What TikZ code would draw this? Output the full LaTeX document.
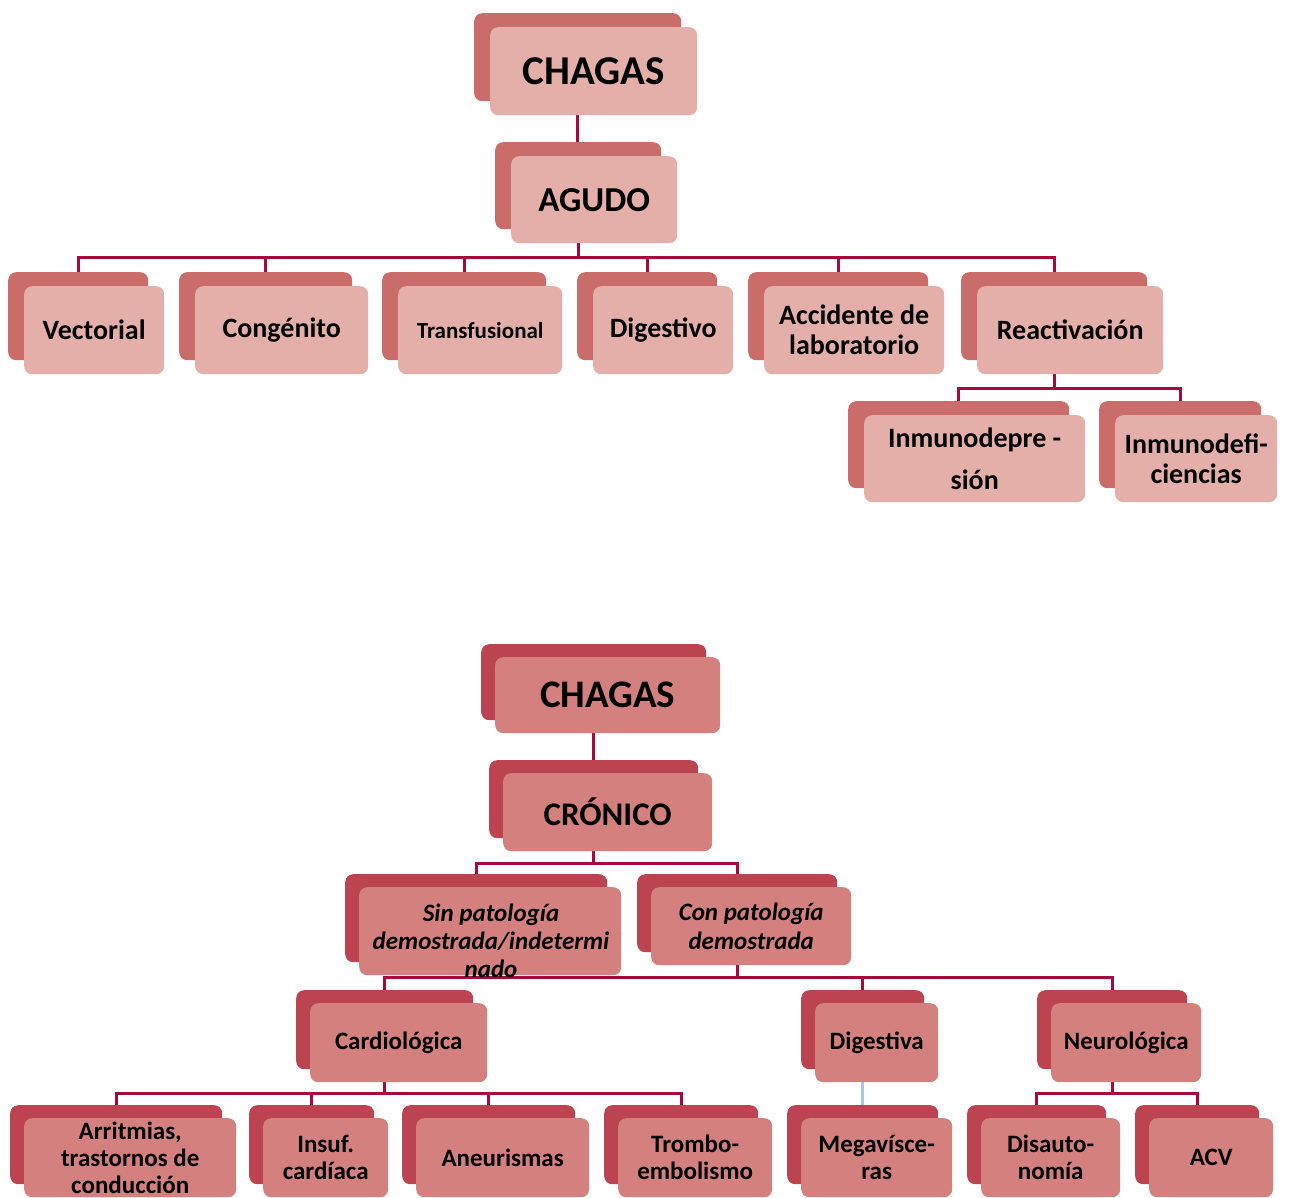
\documentclass[tikz,border=0pt]{standalone}
\usepackage{fontspec}
\setmainfont{Carlito}
\usetikzlibrary{backgrounds}
\definecolor{tback}{RGB}{201,108,106}
\definecolor{tfront}{RGB}{228,175,169}
\definecolor{bback}{RGB}{187,68,80}
\definecolor{bfront}{RGB}{211,128,127}
\definecolor{lnc}{RGB}{165,10,60}
\definecolor{lnb}{RGB}{168,196,230}
\newcommand\fsz[2]{\fontsize{#1}{#2}\selectfont}
\newcommand\bxpair[8][]{%
  \node[#3back, minimum width={(#6-#4)*1pt}, minimum height={(#7-#5)*1pt}] (#2-bk) at (#4,#5) {};
  \node[#3front, minimum width={(#6-#4)*1pt}, minimum height={(#7-#5)*1pt}, #1] (#2) at (#4,#5) {#8};
}
\tikzset{
  boxbase/.style={anchor=north west, inner sep=0pt, draw=none, rounded corners=8pt, align=center},
  tback/.style={boxbase, fill=tback},
  tfront/.style={boxbase, fill=tfront, xshift=16pt, yshift=-14pt, font=\bfseries\fsz{28}{31}},
  bback/.style={boxbase, fill=bback},
  bfront/.style={boxbase, fill=bfront, xshift=14pt, yshift=-13pt, font=\bfseries\fsz{25}{27}},
  conn/.style={draw=lnc, line width=3pt},
  connb/.style={draw=lnb, line width=3pt},
  txt/.style={align=center, inner sep=0pt}
}
\begin{document}
\begin{tikzpicture}[x=1pt,y=-1pt]
\useasboundingbox (0,0) rectangle (1289,1198);
% ---------- AGUDO ----------
\bxpair[font=\bfseries\fsz{41}{44}]{chagas}{t}{474}{13}{681}{101}{CHAGAS}
\bxpair[font=\bfseries\fsz{35}{38}]{agudo}{t}{495}{142}{661}{229}{AGUDO}
\bxpair{vect}{t}{8}{272}{148}{360}{Vectorial}
\bxpair{cong}{t}{179}{272}{352}{360}{Congénito}
\bxpair[font=\bfseries\fsz{23}{26}]{trans}{t}{382}{272}{546}{360}{Transfusional}
\bxpair{dige}{t}{577}{272}{717}{360}{Digestivo}
\bxpair[font=\bfseries\fsz{28}{30}]{acci}{t}{748}{272}{928}{360}{Accidente de\\laboratorio}
\bxpair{react}{t}{961}{272}{1147}{360}{Reactivación}
\bxpair[font=\bfseries\fsz{28}{42}]{idep}{t}{848}{401}{1069}{488}{Inmunodepre -\\sión}
\bxpair[font=\bfseries\fsz{28}{30}]{idef}{t}{1099}{401}{1261}{488}{Inmunodefi-\\ciencias}
% ---------- CRONICO ----------
\bxpair[font=\bfseries\fsz{39}{42}]{chagasII}{b}{481}{644}{706}{720}{CHAGAS}
\bxpair[font=\bfseries\fsz{33}{36}]{cron}{b}{489}{760}{698}{838}{CRÓNICO}
\bxpair{sin}{b}{345}{874}{607}{962}{}
\node[txt, font=\bfseries\itshape\fsz{25}{28}] (sintxt) at (491,941) {Sin patología\\demostrada/indetermi\\nado};
\bxpair[font=\bfseries\itshape\fsz{25}{29}]{con}{b}{637}{874}{837}{952}{Con patología\\demostrada}
\bxpair{cardio}{b}{296}{990}{473}{1069}{Cardiológica}
\bxpair{dig}{b}{801}{990}{924}{1069}{Digestiva}
\bxpair{neuro}{b}{1037}{990}{1187}{1069}{Neurológica}
\bxpair{arr}{b}{10}{1105}{222}{1184}{Arritmias,\\trastornos de\\conducción}
\bxpair{ins}{b}{249}{1105}{374}{1184}{Insuf.\\cardíaca}
\bxpair{aneu}{b}{402}{1105}{575}{1184}{Aneurismas}
\bxpair{trom}{b}{604}{1105}{758}{1184}{Trombo-\\embolismo}
\bxpair{mega}{b}{787}{1105}{938}{1184}{Megavísce-\\ras}
\bxpair{disau}{b}{967}{1105}{1106}{1184}{Disauto-\\nomía}
\bxpair{acv}{b}{1135}{1105}{1259}{1184}{ACV}
% ---------- connectors ----------
\begin{scope}[on background layer]
  \draw[conn] (chagas-bk.south) -- (chagas-bk.south |- agudo-bk.north);
  \foreach \c in {vect,cong,trans,dige,acci,react}
    \draw[conn] (agudo-bk.south) -- ++(0,28) -| (\c-bk.north);
  \foreach \c in {idep,idef}
    \draw[conn] (react-bk.south) -- ++(0,28) -| (\c-bk.north);
  \draw[conn] (chagasII-bk.south) -- (chagasII-bk.south |- cron-bk.north);
  \foreach \c in {sin,con}
    \draw[conn] (cron-bk.south) -- ++(0,25) -| (\c-bk.north);
  \foreach \c in {cardio,dig,neuro}
    \draw[conn] (con-bk.south) -- ++(0,25) -| (\c-bk.north);
  \foreach \c in {arr,ins,aneu,trom}
    \draw[conn] (cardio-bk.south) -- ++(0,24) -| (\c-bk.north);
  \foreach \c in {disau,acv}
    \draw[conn] (neuro-bk.south) -- ++(0,24) -| (\c-bk.north);
  \draw[connb] (dig-bk.south) -- (mega-bk.north);
\end{scope}
\end{tikzpicture}
\end{document}
